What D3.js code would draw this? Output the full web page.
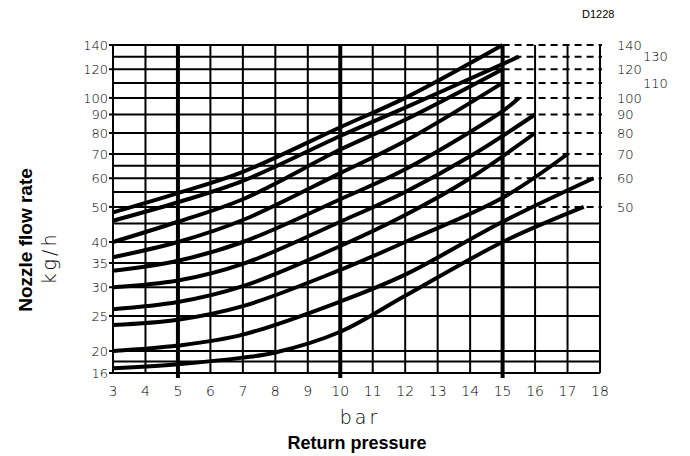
<!DOCTYPE html>
<html lang="en">
<head>
<meta charset="UTF-8">
<title>Nozzle flow rate vs return pressure</title>
<script src="https://d3js.org/d3.v7.min.js"></script>
<style>
    body { margin: 0; background: #fff; }
    svg { display: block; }
    .lbl { font-family: "DejaVu Sans", sans-serif; font-weight: 200; font-size: 13px; fill: #000; }
    .small { font-family: "Liberation Sans", Arial, sans-serif; font-size: 11px; fill: #000; }
    .bold { font-family: "Liberation Sans", Arial, sans-serif; font-weight: bold; font-size: 18px; fill: #000; }
    .unit { font-family: "DejaVu Sans", sans-serif; font-weight: 200; font-size: 19px; fill: #000; letter-spacing: 3px; }
</style>
</head>
<body>
<div id="chart"></div>
<script>
    // Data
    const pressureTicks = [3, 4, 5, 6, 7, 8, 9, 10, 11, 12, 13, 14, 15, 16, 17, 18];
    const majorPressure = [5, 10, 15];
    const flowGrid = [16, 18, 20, 25, 30, 35, 40, 45, 50, 55, 60, 65, 70, 80, 90, 100, 110, 120, 130, 140];
    const flowLabels = [16, 20, 25, 30, 35, 40, 50, 60, 70, 80, 90, 100, 120, 140];

    // nozzle sizes (kg/h) and the return pressure where each curve stops
    const nozzleSizes = [140, 130, 120, 110, 100, 90, 80, 70, 60, 50];
    const curveEnd = [15, 15.5, 15, 15, 15.5, 16, 16, 17, 17.8, 17.5];

    const flow140 = [[3, 48.3], [5, 54.6], [7, 62.5], [10, 83], [12, 100], [15, 140]];
    const flow130 = [[3, 45.8], [5, 51.5], [7, 59], [10, 78.5], [12, 94], [15, 124], [15.5, 130]];
    const flow120 = [[3, 40], [5, 45.5], [7, 52.5], [10, 72], [12, 87], [15, 120]];
    const flow110 = [[3, 36.3], [5, 40], [7, 46], [10, 62], [12, 76], [15, 110]];
    const flow100 = [[3, 33.3], [5, 35.5], [7, 40], [10, 52.5], [12, 63.5], [15, 92], [15.5, 100]];
    const flow90 = [[3, 30], [5, 31.3], [7, 34.8], [10, 45.5], [12, 55], [14, 69], [16, 90]];
    const flow80 = [[3, 26.1], [5, 27.3], [7, 30.2], [10, 39], [12, 47.5], [14, 60], [16, 80]];
    const flow70 = [[3, 23.6], [5, 24.4], [7, 26.6], [10, 33.5], [12, 40], [15, 53], [17, 70]];
    const flow60 = [[3, 20], [5, 20.7], [7, 22.2], [10, 27.4], [12, 32.5], [15, 45.5], [17.8, 60]];
    const flow50 = [[3, 16.8], [5, 17.5], [7, 18.7], [8, 19.7], [10, 22.6], [12, 28.4], [15, 40], [17.5, 50]];
    const curves = [flow140, flow130, flow120, flow110, flow100, flow90, flow80, flow70, flow60, flow50];

    const width = 690, height = 456;

    const svg = d3.select("#chart").append("svg")
        .attr("width", width)
        .attr("height", height);

    svg.append("rect").attr("width", width).attr("height", height).attr("fill", "#fff");

    const x = d3.scaleLinear().domain([3, 18]).range([113, 600]);
    // log scale, the bottom part (16-20) is squeezed in the original
    const y = d3.scaleLog().domain([16, 20, 140]).range([373, 351, 45]);

    const grid = svg.append("g").attr("stroke", "#000").attr("fill", "none");

    // horizontal grid: curve values go solid up to the curve end, then dashed
    flowGrid.forEach(v => {
        const i = nozzleSizes.indexOf(v);
        if (i < 0) {
            grid.append("line")
                .attr("x1", x(3)).attr("x2", x(18))
                .attr("y1", y(v)).attr("y2", y(v))
                .attr("stroke-width", 2);
        } else {
            grid.append("line")
                .attr("x1", x(3)).attr("x2", x(Math.min(curveEnd[i], 15)))
                .attr("y1", y(v)).attr("y2", y(v))
                .attr("stroke-width", 2);
            grid.append("line")
                .attr("x1", x(Math.min(curveEnd[i], 15))).attr("x2", x(18) + 2)
                .attr("y1", y(v)).attr("y2", y(v))
                .attr("stroke-width", 2)
                .attr("stroke-dasharray", "7,5");
        }
    });

    // vertical grid
    pressureTicks.forEach(p => {
        const major = majorPressure.includes(p);
        grid.append("line")
            .attr("x1", x(p)).attr("x2", x(p))
            .attr("y1", y(140)).attr("y2", major ? y(16) + 5 : y(16))
            .attr("stroke-width", major ? 4 : 2);
    });

    // left ticks
    flowLabels.forEach(v => {
        grid.append("line")
            .attr("x1", x(3) - 4).attr("x2", x(3))
            .attr("y1", y(v)).attr("y2", y(v))
            .attr("stroke-width", 2);
    });

    // curves
    const line = d3.line()
        .x(d => x(d[0]))
        .y(d => y(d[1]))
        .curve(d3.curveCatmullRom);

    svg.append("g")
        .selectAll("path")
        .data(curves)
        .join("path")
        .attr("d", line)
        .attr("fill", "none")
        .attr("stroke", "#000")
        .attr("stroke-width", 4)
        .attr("stroke-linecap", "butt");

    // y tick labels
    svg.append("g").selectAll("text")
        .data(flowLabels)
        .join("text")
        .attr("class", "lbl")
        .attr("x", x(3) - 5)
        .attr("y", d => y(d))
        .attr("dy", "0.36em")
        .attr("text-anchor", "end")
        .text(d => d);

    // x tick labels
    svg.append("g").selectAll("text")
        .data(pressureTicks)
        .join("text")
        .attr("class", "lbl")
        .style("font-size", "14px")
        .attr("x", d => x(d))
        .attr("y", 396)
        .attr("text-anchor", "middle")
        .text(d => d);

    // nozzle size labels on the right, 130 and 110 shifted out
    svg.append("g").selectAll("text")
        .data(nozzleSizes)
        .join("text")
        .attr("class", "lbl")
        .attr("x", d => (d === 130 || d === 110) ? 643 : 617)
        .attr("y", d => y(d))
        .attr("dy", "0.36em")
        .text(d => d);

    svg.append("text")
        .attr("class", "small")
        .attr("x", 582).attr("y", 18)
        .text("D1228");

    svg.append("text")
        .attr("class", "unit")
        .attr("x", 360).attr("y", 424)
        .attr("text-anchor", "middle")
        .text("bar");

    svg.append("text")
        .attr("class", "bold")
        .attr("x", 357).attr("y", 449)
        .attr("text-anchor", "middle")
        .text("Return pressure");

    svg.append("text")
        .attr("class", "bold")
        .style("font-size", "19px")
        .attr("transform", "translate(32,240) rotate(-90)")
        .attr("text-anchor", "middle")
        .text("Nozzle flow rate");

    svg.append("text")
        .attr("class", "unit")
        .attr("transform", "translate(56,258) rotate(-90)")
        .attr("text-anchor", "middle")
        .text("kg/h");
</script>
</body>
</html>
